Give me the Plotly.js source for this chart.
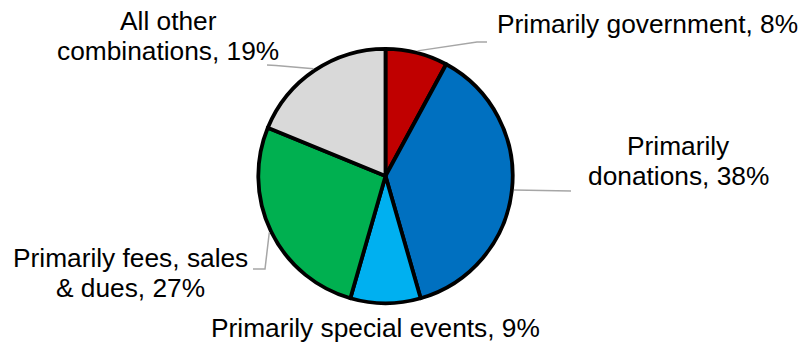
<!DOCTYPE html>
<html>
<head>
<meta charset="utf-8">
<script src="https://cdn.plot.ly/plotly-3.0.1.min.js"></script>
<style>
  html, body { margin: 0; padding: 0; background: #fff; }
  #chart { width: 801px; height: 344px; }
</style>
</head>
<body>
<div id="chart"></div>
<script>
// Revenue mix categories, clockwise from 12 o'clock ("\n" marks a label line break)
const categories = [
  "Primarily government",
  "Primarily\ndonations",
  "Primarily special events",
  "Primarily fees, sales\n& dues",
  "All other\ncombinations"
];
// Share of each category, in percent
const shares = [8, 38, 9, 27, 19];
const sliceColors = ["#C00000", "#0070C0", "#00B0F0", "#00B050", "#D9D9D9"];

// Page geometry (pixels)
const W = 801, H = 344;
const cx = 385.5, cy = 176, R = 127.2;   // pie centre and radius
const EDGE = 3.8;                         // slice outline width
const FONT = { family: "Liberation Sans, Arial, sans-serif", size: 26.3, color: "#000" };
const LINE_GAP = 30;                      // distance between label lines

// Where each label block sits (centre x, centre y of its first line)
const labelPos = [
  { x: 647.5, y: 24 },
  { x: 678, y: 146 },
  { x: 375, y: 328 },
  { x: 130.5, y: 258 },
  { x: 168, y: 21 }
];
// Leader line points leading towards the slice (null = no leader)
const leaderFrom = [
  [[487, 42], [477, 42]],
  [[571, 191]],
  null,
  [[253, 269], [265, 269]],
  [[267, 65], [276, 65.5]]
];

const px = x => x / W;
const py = y => 1 - y / H;

// Label text built from each category and its share
const labelText = categories.map((c, i) => c + ", " + shares[i] + "%");

// Mid-angle of every slice on the rim, from the cumulative shares
const total = shares.reduce((a, b) => a + b, 0);
let cum = 0;
const rimPoints = shares.map(v => {
  const mid = (cum + v / 2) / total;
  cum += v;
  const a = mid * 2 * Math.PI;
  const r = R + EDGE / 2;
  return [cx + r * Math.sin(a), cy - r * Math.cos(a)];
});

const annotations = [];
labelText.forEach((t, i) => {
  t.split("\n").forEach((line, k) => {
    annotations.push({
      xref: "paper", yref: "paper",
      x: px(labelPos[i].x), y: py(labelPos[i].y + k * LINE_GAP),
      xanchor: "center", yanchor: "middle",
      text: line, showarrow: false, font: FONT
    });
  });
});

const shapes = [];
leaderFrom.forEach((pts, i) => {
  if (!pts) return;
  const all = pts.concat([rimPoints[i]]);
  const path = all.map((p, k) => (k ? "L" : "M") + px(p[0]) + "," + py(p[1])).join(" ");
  shapes.push({
    type: "path", xref: "paper", yref: "paper", path: path,
    line: { color: "#A6A6A6", width: 1.5 }
  });
});

const trace = {
  type: "pie",
  labels: labelText,
  values: shares,
  sort: false,
  direction: "clockwise",
  rotation: 0,
  textinfo: "none",
  hoverinfo: "none",
  showlegend: false,
  marker: { colors: sliceColors, line: { color: "#000", width: EDGE } },
  domain: {
    x: [px(cx - R), px(cx + R)],
    y: [py(cy + R), py(cy - R)]
  }
};

const layout = {
  width: W, height: H,
  margin: { l: 0, r: 0, t: 0, b: 0 },
  paper_bgcolor: "#fff",
  plot_bgcolor: "#fff",
  showlegend: false,
  annotations: annotations,
  shapes: shapes
};

Plotly.newPlot("chart", [trace], layout, { staticPlot: true, displayModeBar: false });
</script>
</body>
</html>
